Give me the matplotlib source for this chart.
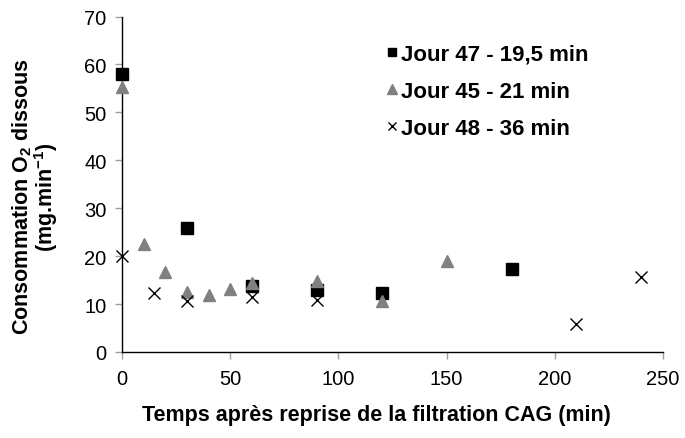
import matplotlib
matplotlib.use("Agg")
import matplotlib.pyplot as plt

plt.rcParams["font.family"] = ["Liberation Sans", "DejaVu Sans"]
plt.rcParams["mathtext.fontset"] = "custom"
plt.rcParams["mathtext.rm"] = "Liberation Sans"
plt.rcParams["mathtext.bf"] = "Liberation Sans:bold"

# ─── Mesures : consommation d'O2 dissous après reprise de la filtration ──────
t_j47 = [0, 30, 60, 90, 120, 180]
o2_j47 = [58.0, 25.9, 13.8, 12.9, 12.3, 17.4]

t_j45 = [0, 10, 20, 30, 40, 50, 60, 90, 120, 150]
o2_j45 = [55.2, 22.5, 16.7, 12.5, 11.9, 13.1, 14.3, 14.8, 10.6, 19.0]

t_j48 = [0, 15, 30, 60, 90, 210, 240]
o2_j48 = [20.0, 12.3, 10.6, 11.4, 10.8, 5.9, 15.7]

labels = ["Jour 47 - 19,5 min", "Jour 45 - 21 min", "Jour 48 - 36 min"]

fig = plt.figure(figsize=(6.85, 4.39), dpi=100)
ax = fig.add_axes([0.178, 0.196, 0.79, 0.764])

ax.plot(t_j47, o2_j47, linestyle="none", marker="s", ms=8.5,
        color="black", label=labels[0], zorder=3, clip_on=False)
ax.plot(t_j45, o2_j45, linestyle="none", marker="^", ms=9,
        color="#808080", label=labels[1], zorder=4, clip_on=False)
ax.plot(t_j48, o2_j48, linestyle="none", marker="x", ms=8.5, mew=1.0,
        color="black", label=labels[2], zorder=5, clip_on=False)

ax.set_xlim(0, 250)
ax.set_ylim(0, 70)
ax.set_xticks(range(0, 251, 50))
ax.set_yticks(range(0, 71, 10))

for s in ("top", "right"):
    ax.spines[s].set_visible(False)
for s in ("left", "bottom"):
    ax.spines[s].set_color("black")
    ax.spines[s].set_linewidth(1.0)

ax.tick_params(axis="both", labelsize=14.5, color="#a0a0a0", length=5,
               width=1, labelcolor="black")
ax.tick_params(axis="x", pad=7)
ax.tick_params(axis="y", pad=6)

ax.set_xlabel("Temps après reprise de la filtration CAG (min)",
              fontsize=15.5, fontweight="bold")
ax.xaxis.set_label_coords(0.47, -0.155)
ax.set_ylabel("Consommation O$_\\mathbf{2}$ dissous\n(mg.min$^{\\mathbf{-1}}$)",
              fontsize=15.5, fontweight="bold", linespacing=0.9)
ax.yaxis.set_label_coords(-0.115, 0.465)

ax.legend(loc="upper left", bbox_to_anchor=(0.452, 0.978), frameon=False,
          prop={"size": 16, "weight": "bold"}, handlelength=0.5,
          handletextpad=0.15, labelspacing=0.72, markerscale=0.75,
          borderaxespad=0.5)

fig.savefig("out.png", dpi=100)
